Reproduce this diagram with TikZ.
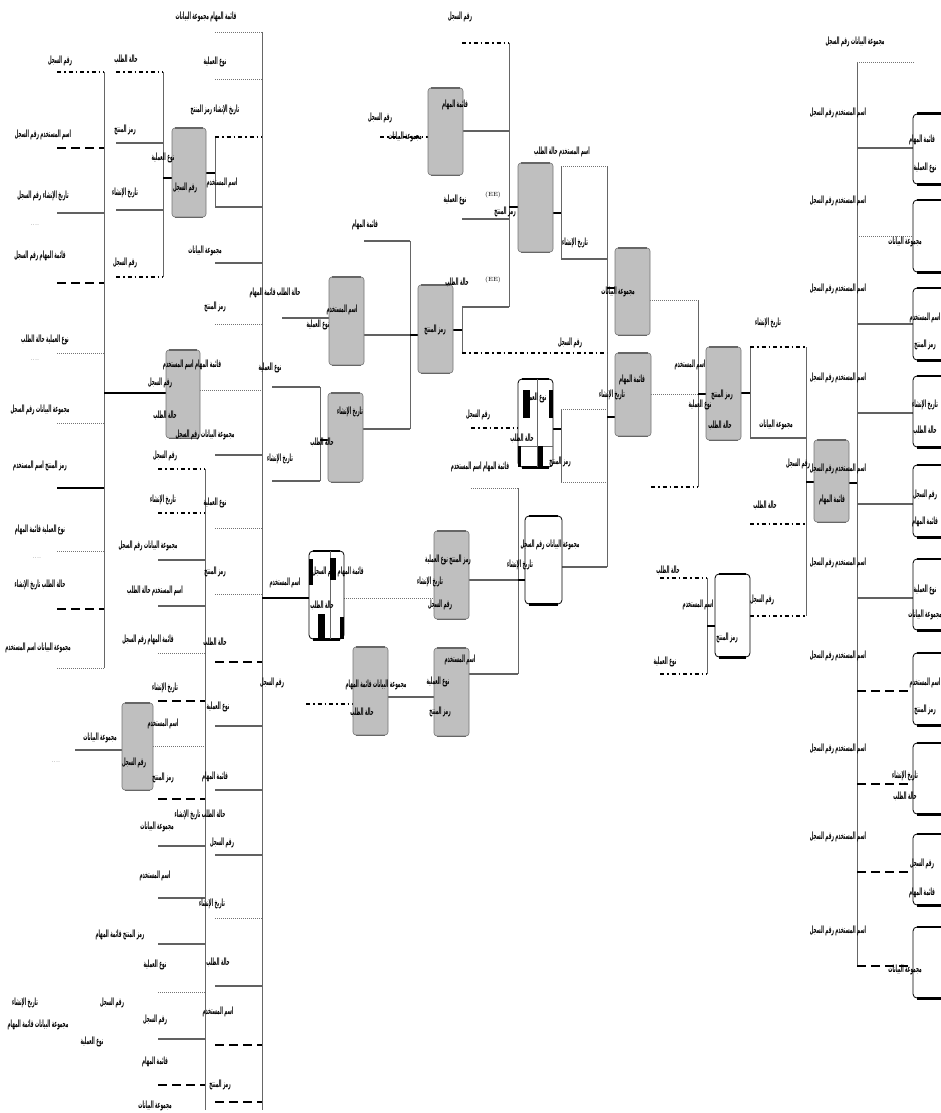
\documentclass[tikz,border=0pt]{standalone}
\usepackage{graphicx}
\usepackage{fontspec}
\newfontfamily\arabicfont[Script=Arabic]{DejaVu Sans}
\TeXXeTstate=1
\usetikzlibrary{fit}
\newcounter{lbc}
\newcommand\lb[3]{\stepcounter{lbc}\node[lab] (lab\arabic{lbc}) at (#1,#2) {\scalebox{0.42}[1]{\arabicfont\bfseries\beginR #3\endR}};}
\newcommand\PA{اسم المستخدم}
\newcommand\PB{رقم السجل}
\newcommand\PC{تاريخ الإنشاء}
\newcommand\PD{نوع العملية}
\newcommand\PE{قائمة المهام}
\newcommand\PF{حالة الطلب}
\newcommand\PG{مجموعة البيانات}
\newcommand\PH{رمز المنتج}
\tikzset{
  sol/.style={draw=black!62, line width=1.6pt},
  solb/.style={draw=black, line width=2pt},
  dd/.style={draw=black, line width=1.8pt, dash pattern=on 4pt off 3pt on 1.5pt off 3pt},
  dsh/.style={draw=black, line width=2.2pt, dash pattern=on 9pt off 5pt},
  dot/.style={draw=black!55, line width=0.7pt, dash pattern=on 1pt off 1pt},
  stub/.style={draw=black, line width=2.6pt},
  vl/.style={draw=black!60, line width=0.8pt},
  gbox/.style={rectangle, rounded corners=3pt, fill=black!25, draw=black!55, line width=0.6pt, inner sep=0pt},
  wbox/.style={rectangle, rounded corners=4pt, fill=white, draw=black, line width=0.8pt, inner sep=0pt},
  topE/.style={draw=black!60, line width=2.2pt},
  botE/.style={draw=black!60, line width=1.2pt},
  wE/.style={draw=black, line width=2.2pt},
  lab/.style={font=\fontsize{10}{11}\selectfont, inner sep=0pt, text=black},
}
\begin{document}
\begin{tikzpicture}[x=1pt,y=-1pt]
\useasboundingbox (0,0) rectangle (941,1113);
% ---------- vertical connectors ----------
\draw[vl] (104,72) -- (104,668);
\draw[vl] (163,72) -- (163,277);
\draw[vl] (215,137) -- (215,207);
\draw[vl] (262,32) -- (262,1110);
\draw[vl] (205,469) -- (205,1110);
\draw[vl] (320,387) -- (320,481);
\draw[vl] (410,241) -- (410,429);
\draw[vl] (462,307) -- (462,353);
\draw[vl] (509,43) -- (509,307);
\draw[vl] (607,166) -- (607,567);
\draw[vl] (561,409) -- (561,482);
\draw[vl] (518,488) -- (518,674);
\draw[vl] (698,300) -- (698,487);
\draw[vl] (750,347) -- (750,438);
\draw[vl] (806,347) -- (806,616);
\draw[vl] (707,578) -- (707,674);
\draw[vl] (857,62) -- (857,966);
% ---------- group A ----------
\draw[dd] (57,72) -- (104,72);
\draw[dsh] (57,148) -- (104,148);
\draw[sol] (57,213) -- (104,213);
\draw[dsh] (57,283) -- (104,283);
\draw[dot] (57,353) -- (104,353);
\draw[dot] (57,423) -- (104,423);
\draw[solb] (57,488) -- (104,488);
\draw[dot] (57,551) -- (104,551);
\draw[dsh] (57,609) -- (104,609);
\draw[dot] (57,668) -- (104,668);
\draw[solb] (104,393) -- (166,393);
% ---------- group B ----------
\draw[dd] (116,72) -- (163,72);
\draw[sol] (116,143) -- (163,143);
\draw[sol] (116,210) -- (163,210);
\draw[dd] (116,277) -- (163,277);
\draw[stub] (163,178) -- (172,178);
\draw[stub] (206,173) -- (215,173);
\draw[dot] (215,32) -- (262,32);
\draw[dot] (215,79) -- (262,79);
\draw[dd] (215,137) -- (262,137);
\draw[sol] (215,207) -- (262,207);
\draw[sol] (215,263) -- (262,263);
\draw[dot] (215,324) -- (262,324);
\draw[dot] (200,390) -- (262,390);
\draw[sol] (215,455) -- (262,455);
% ---------- group C ----------
\draw[dd] (158,469) -- (205,469);
\draw[dd] (158,513) -- (205,513);
\draw[sol] (158,560) -- (205,560);
\draw[sol] (158,606) -- (205,606);
\draw[dot] (158,653) -- (205,653);
\draw[dsh] (158,701) -- (205,701);
\draw[dsh] (158,799) -- (205,799);
\draw[sol] (158,846) -- (205,846);
\draw[sol] (158,898) -- (205,898);
\draw[sol] (158,944) -- (205,944);
\draw[dot] (158,992) -- (205,992);
\draw[sol] (158,1039) -- (205,1039);
\draw[dsh] (158,1085) -- (205,1085);
\draw[sol] (75,750) -- (122,750);
\draw[dot] (153,746) -- (205,746);
\draw[dot] (215,528) -- (262,528);
\draw[dot] (215,594) -- (262,594);
\draw[dsh] (215,662) -- (262,662);
\draw[sol] (215,726) -- (262,726);
\draw[sol] (215,790) -- (262,790);
\draw[sol] (215,855) -- (262,855);
\draw[dot] (215,918) -- (262,918);
\draw[sol] (215,986) -- (262,986);
\draw[dsh] (215,1045) -- (262,1045);
\draw[dsh] (215,1102) -- (262,1102);
\draw[stub] (262,598) -- (309,598);
% ---------- middle ----------
\draw[sol] (282,318) -- (329,318);
\draw[sol] (364,335) -- (410,335);
\draw[sol] (364,241) -- (410,241);
\draw[stub] (410,335) -- (418,335);
\draw[stub] (320,440) -- (328,440);
\draw[sol] (272,387) -- (320,387);
\draw[sol] (272,481) -- (320,481);
\draw[sol] (363,429) -- (410,429);
\draw[stub] (453,330) -- (462,330);
\draw[sol] (462,307) -- (509,307);
\draw[dd] (462,353) -- (607,353);
\draw[dd] (380,137) -- (428,137);
\draw[sol] (463,131) -- (509,131);
\draw[dd] (462,43) -- (509,43);
\draw[sol] (462,219) -- (509,219);
\draw[stub] (509,207) -- (518,207);
\draw[stub] (553,213) -- (561,213);
\draw[dot] (561,166) -- (607,166);
\draw[vl] (561,166) -- (561,259);
\draw[sol] (561,259) -- (607,259);
\draw[stub] (607,288) -- (615,288);
\draw[dot] (650,300) -- (698,300);
\draw[dd] (471,428) -- (518,428);
\draw[stub] (553,429) -- (561,429);
\draw[dot] (561,409) -- (607,409);
\draw[dot] (561,482) -- (607,482);
\draw[stub] (607,417) -- (615,417);
\draw[dot] (651,394) -- (698,394);
\draw[dot] (471,488) -- (518,488);
\draw[stub] (518,580) -- (525,580);
\draw[sol] (562,567) -- (607,567);
\draw[dot] (344,598) -- (434,598);
\draw[sol] (469,580) -- (518,580);
\draw[dd] (306,704) -- (353,704);
\draw[sol] (388,697) -- (434,697);
\draw[sol] (469,674) -- (518,674);
% ---------- right ----------
\draw[dd] (651,487) -- (698,487);
\draw[stub] (698,394) -- (706,394);
\draw[stub] (741,393) -- (750,393);
\draw[dd] (750,347) -- (806,347);
\draw[sol] (750,438) -- (806,438);
\draw[dd] (750,524) -- (806,524);
\draw[dd] (750,616) -- (806,616);
\draw[stub] (806,482) -- (814,482);
\draw[stub] (849,483) -- (857,483);
\draw[dd] (660,578) -- (707,578);
\draw[dd] (660,674) -- (707,674);
\draw[stub] (707,626) -- (715,626);
\draw[dot] (857,62) -- (914,62);
\draw[sol] (857,148) -- (913,148);
\draw[dot] (857,236) -- (913,236);
\draw[sol] (857,324) -- (913,324);
\draw[sol] (857,413) -- (913,413);
\draw[sol] (857,504) -- (913,504);
\draw[sol] (857,598) -- (913,598);
\draw[dsh] (857,691) -- (913,691);
\draw[dsh] (857,784) -- (913,784);
\draw[dsh] (857,872) -- (913,872);
\draw[dsh] (857,966) -- (913,966);
% ---------- gray boxes ----------
\node[gbox, fit={(172,128) (206,217)}] (b1) {};
\node[gbox, fit={(166,350) (200,438)}] (b2) {};
\node[gbox, fit={(122,703) (153,790)}] (b3) {};
\node[gbox, fit={(428,88) (463,175)}] (b4) {};
\node[gbox, fit={(518,163) (553,252)}] (b5) {};
\node[gbox, fit={(615,248) (650,335)}] (b6) {};
\node[gbox, fit={(418,285) (453,373)}] (b7) {};
\node[gbox, fit={(329,277) (364,365)}] (b8) {};
\node[gbox, fit={(328,393) (363,482)}] (b9) {};
\node[gbox, fit={(615,353) (651,436)}] (b11) {};
\node[gbox, fit={(434,531) (469,619)}] (b14) {};
\node[gbox, fit={(353,647) (388,735)}] (b15) {};
\node[gbox, fit={(434,648) (469,736)}] (b16) {};
\node[gbox, fit={(706,347) (741,440)}] (b17) {};
\node[gbox, fit={(814,440) (849,522)}] (b18) {};
\foreach \n in {b1,b2,b3,b4,b5,b6,b7,b8,b9,b11,b14,b15,b16,b17,b18}{
  \draw[topE] ([xshift=3pt]\n.north west) -- ([xshift=-3pt]\n.north east);
  \draw[botE] ([xshift=3pt]\n.south west) -- ([xshift=-3pt]\n.south east);
}
% ---------- white boxes ----------
\node[wbox, fit={(525,516) (562,604)}] (b12) {};
\node[wbox, fit={(715,574) (750,657)}] (b19) {};
\node[wbox, fit={(518,379) (553,467)}] (b10) {};
\node[wbox, fit={(309,551) (344,639)}] (b13) {};
\node[wbox, fit={(913,114) (968,184)}] (r1) {};
\node[wbox, fit={(913,200) (968,272)}] (r2) {};
\node[wbox, fit={(913,288) (968,360)}] (r3) {};
\node[wbox, fit={(913,376) (968,447)}] (r4) {};
\node[wbox, fit={(913,465) (968,537)}] (r5) {};
\node[wbox, fit={(913,559) (968,630)}] (r6) {};
\node[wbox, fit={(913,653) (968,725)}] (r7) {};
\node[wbox, fit={(913,743) (968,814)}] (r8) {};
\node[wbox, fit={(913,834) (968,905)}] (r9) {};
\node[wbox, fit={(913,927) (968,998)}] (r10) {};
\foreach \n in {b12,b19,b10,b13,r1,r2,r3,r4,r5,r6,r7,r8,r9,r10}{
  \draw[wE] ([xshift=4pt]\n.north west) -- ([xshift=-4pt]\n.north east);
  \draw[wE] ([xshift=4pt]\n.south west) -- ([xshift=-4pt]\n.south east);
}
% table box b10
\draw[black!60, line width=0.5pt] (537,379) -- (537,467);
\draw[black!60, line width=0.5pt] (518,446) -- (553,446);
\fill (523,390) rectangle (530,418);
\fill (549,390) rectangle (553,418);
\fill (518,446) rectangle (521,467);
\fill (538,446) rectangle (543,467);
% table box b13
\draw[black!60, line width=0.5pt] (330,551) -- (330,639);
\fill (309,559) rectangle (313,585);
\fill (330,558) rectangle (336,580);
\fill (318,614) rectangle (325,639);
\fill (340,617) rectangle (344,639);
% ---------- labels: left ----------
\lb{60}{61}{\PB}
\lb{43}{135}{\PA\ \PB}
\lb{43}{196}{\PC\ \PB}
\lb{40}{256}{\PE\ \PB}
\lb{45}{340}{\PD\ \PF}
\lb{40}{410}{\PG\ \PB}
\lb{40}{466}{\PH\ \PA}
\lb{40}{530}{\PD\ \PE}
\lb{40}{585}{\PF\ \PC}
\lb{38}{648}{\PG\ \PA}
\node[lab, font=\fontsize{5}{5}\selectfont] (dt1) at (35,225) {....};
\node[lab, font=\fontsize{5}{5}\selectfont] (dt2) at (35,360) {....};
\node[lab, font=\fontsize{5}{5}\selectfont] (dt3) at (37,558) {....};
\node[lab, font=\fontsize{5}{5}\selectfont] (dt4) at (56,762) {....};
\lb{126}{59}{\PF}
\lb{125}{130}{\PH}
\lb{125}{193}{\PC}
\lb{125}{263}{\PB}
\lb{163}{158}{\PD}
\lb{185}{188}{\PB}
\lb{206}{17}{\PE\ \PG}
\lb{215}{62}{\PD}
\lb{215}{110}{\PC\ \PH}
\lb{222}{183}{\PA}
\lb{205}{251}{\PG}
\lb{275}{293}{\PF\ \PE}
\lb{215}{307}{\PH}
\lb{192}{365}{\PE\ \PA}
\lb{160}{383}{\PB}
\lb{165}{415}{\PF}
\lb{205}{435}{\PG\ \PB}
\lb{270}{368}{\PD}
\lb{280}{459}{\PC}
\lb{165}{456}{\PB}
\lb{163}{500}{\PC}
\lb{148}{546}{\PG\ \PB}
\lb{155}{591}{\PA\ \PF}
\lb{148}{640}{\PE\ \PB}
\lb{215}{503}{\PD}
\lb{215}{572}{\PH}
\lb{215}{642}{\PF}
\lb{165}{688}{\PC}
\lb{100}{738}{\PG}
\lb{163}{724}{\PA}
\lb{163}{778}{\PH}
\lb{134}{763}{\PB}
\lb{218}{707}{\PD}
\lb{215}{777}{\PE}
\lb{200}{815}{\PF\ \PC}
\lb{157}{827}{\PG}
\lb{222}{843}{\PB}
\lb{155}{876}{\PA}
\lb{120}{935}{\PH\ \PE}
\lb{212}{904}{\PC}
\lb{155}{965}{\PD}
\lb{218}{962}{\PF}
\lb{155}{1020}{\PB}
\lb{218}{1012}{\PA}
\lb{155}{1062}{\PE}
\lb{220}{1085}{\PH}
\lb{155}{1106}{\PG}
\lb{25}{1003}{\PC}
\lb{38}{1025}{\PG\ \PE}
\lb{112}{1003}{\PB}
\lb{92}{1042}{\PD}
% ---------- labels: middle ----------
\lb{460}{17}{\PB}
\lb{455}{105}{\PE}
\lb{405}{137}{\PG}
\lb{380}{118}{\PB}
\lb{562}{152}{\PA\ \PF}
\lb{455}{200}{\PD}
\lb{505}{212}{\PH}
\lb{575}{243}{\PC}
\lb{457}{282}{\PF}
\lb{570}{343}{\PB}
\lb{365}{225}{\PE}
\lb{342}{310}{\PA}
\lb{318}{325}{\PD}
\lb{435}{330}{\PH}
\lb{350}{412}{\PC}
\lb{322}{442}{\PF}
\lb{478}{415}{\PB}
\lb{480}{467}{\PE\ \PA}
\lb{535}{398}{\PD}
\lb{522}{438}{\PF}
\lb{560}{462}{\PH}
\lb{550}{545}{\PG\ \PB}
\lb{520}{565}{\PC}
\lb{285}{583}{\PA}
\lb{338}{572}{\PE\ \PB}
\lb{322}{605}{\PF}
\lb{448}{560}{\PH\ \PD}
\lb{430}{582}{\PC}
\lb{440}{605}{\PB}
\lb{272}{683}{\PB}
\lb{376}{685}{\PG\ \PE}
\lb{362}{712}{\PF}
\lb{460}{660}{\PA}
\lb{438}{682}{\PD}
\lb{440}{712}{\PH}
\node[lab, font=\fontsize{6}{7}\selectfont] (ee1) at (493,195) {(EE)};
\node[lab, font=\fontsize{6}{7}\selectfont] (ee2) at (493,280) {(EE)};
% ---------- labels: right ----------
\lb{632}{380}{\PE}
\lb{612}{395}{\PC}
\lb{618}{292}{\PG}
\lb{690}{365}{\PA}
\lb{722}{395}{\PH}
\lb{700}{405}{\PD}
\lb{720}{425}{\PF}
\lb{768}{323}{\PC}
\lb{776}{425}{\PG}
\lb{765}{505}{\PF}
\lb{798}{464}{\PB}
\lb{832}{500}{\PE}
\lb{668}{570}{\PF}
\lb{698}{605}{\PA}
\lb{727}{638}{\PH}
\lb{762}{600}{\PB}
\lb{665}{662}{\PD}
\lb{855}{42}{\PG\ \PB}
\foreach \yy in {148,236,324,413,504,598,691,784,872,966}{
  \lb{838}{\yy-35}{\PA\ \PB}
}
\lb{922}{140}{\PE}
\lb{925}{168}{\PD}
\lb{905}{242}{\PG}
\lb{925}{318}{\PA}
\lb{925}{345}{\PH}
\lb{925}{405}{\PC}
\lb{925}{430}{\PF}
\lb{925}{495}{\PB}
\lb{925}{522}{\PE}
\lb{925}{590}{\PD}
\lb{925}{615}{\PG}
\lb{925}{683}{\PA}
\lb{925}{710}{\PH}
\lb{905}{776}{\PC}
\lb{905}{796}{\PF}
\lb{922}{864}{\PB}
\lb{922}{893}{\PE}
\lb{905}{970}{\PG}
\end{tikzpicture}
\end{document}
